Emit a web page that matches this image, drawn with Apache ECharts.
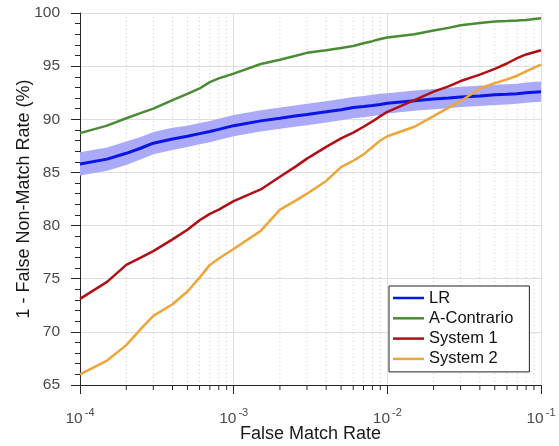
<!DOCTYPE html>
<html>
<head>
<meta charset="utf-8">
<script src="https://cdn.jsdelivr.net/npm/echarts@6/dist/echarts.min.js"></script>
<style>
  html, body { margin: 0; padding: 0; background: #fff; }
  #chart { width: 559px; height: 446px; }
</style>
</head>
<body>
<div id="chart"></div>
<script>
// false match rate samples (x)
var fmr = [1e-4, 1.5e-4, 2e-4, 2.5e-4, 3e-4, 4e-4, 5e-4, 6e-4, 7e-4, 8e-4,
           1e-3, 1.5e-3, 2e-3, 2.5e-3, 3e-3, 4e-3, 5e-3, 6e-3, 7e-3, 8e-3, 9e-3,
           1e-2, 1.5e-2, 2e-2, 2.5e-2, 3e-2, 4e-2, 5e-2, 6e-2, 7e-2, 8e-2, 1e-1];

var lr = [85.8, 86.25, 86.8, 87.3, 87.75, 88.15, 88.4, 88.65, 88.85, 89.05,
          89.4, 89.85, 90.1, 90.3, 90.45, 90.7, 90.9, 91.1, 91.2, 91.3, 91.4,
          91.5, 91.75, 91.9, 92.0, 92.1, 92.2, 92.3, 92.35, 92.4, 92.5, 92.6];
// half width of the shaded band around LR
var lrSpread = [1.1, 1.1, 1.1, 1.05, 1.05, 1.05, 1.0, 1.0, 1.0, 1.0,
                1.0, 1.0, 1.0, 1.0, 1.0, 1.0, 1.0, 1.0, 1.0, 1.0, 1.0,
                0.95, 0.95, 0.95, 0.95, 0.95, 0.95, 0.95, 0.95, 0.95, 0.95, 0.95];
var aContrario = [88.7, 89.4, 90.1, 90.6, 91.0, 91.8, 92.4, 92.9, 93.5, 93.85,
                  94.3, 95.2, 95.6, 95.95, 96.25, 96.5, 96.7, 96.9, 97.15, 97.35, 97.55,
                  97.7, 98.0, 98.35, 98.6, 98.85, 99.05, 99.2, 99.25, 99.3, 99.35, 99.5];
var system1 = [73.1, 74.7, 76.3, 77.0, 77.6, 78.7, 79.6, 80.5, 81.1, 81.5,
               82.3, 83.4, 84.6, 85.5, 86.3, 87.4, 88.2, 88.75, 89.3, 89.8, 90.3,
               90.7, 91.8, 92.6, 93.1, 93.6, 94.2, 94.75, 95.25, 95.75, 96.1, 96.5];
var system2 = [66.0, 67.3, 68.75, 70.3, 71.5, 72.6, 73.8, 75.1, 76.3, 76.9,
               77.8, 79.5, 81.5, 82.3, 83.0, 84.2, 85.5, 86.1, 86.7, 87.4, 88.0,
               88.4, 89.3, 90.3, 91.1, 91.7, 92.9, 93.4, 93.75, 94.1, 94.5, 95.15];

var xTicks = [1e-4, 1e-3, 1e-2, 1e-1];
var xTickExp = ['-4', '-3', '-2', '-1'];
var xMinorTicks = [2e-4, 3e-4, 4e-4, 5e-4, 6e-4, 7e-4, 8e-4, 9e-4,
                   2e-3, 3e-3, 4e-3, 5e-3, 6e-3, 7e-3, 8e-3, 9e-3,
                   2e-2, 3e-2, 4e-2, 5e-2, 6e-2, 7e-2, 8e-2, 9e-2];
var yMin = 65, yMax = 100;
var legendNames = ['LR', 'A-Contrario', 'System 1', 'System 2'];

function pairs(ys) {
    return fmr.map(function (x, i) { return [x, ys[i]]; });
}

var chart = echarts.init(document.getElementById('chart'));
var font = 'Liberation Sans, Arial, Helvetica, sans-serif';
var axisColor = '#262626';
var gridColor = '#dedede';

// shaded band: one polygon built from LR +/- spread
function renderBand(params, api) {
    if (params.dataIndex !== 0) return;
    var pts = [];
    for (var i = 0; i < fmr.length; i++) {
        pts.push(api.coord([fmr[i], lr[i] + lrSpread[i]]));
    }
    for (var j = fmr.length - 1; j >= 0; j--) {
        pts.push(api.coord([fmr[j], lr[j] - lrSpread[j]]));
    }
    return {
        type: 'polygon',
        shape: { points: pts },
        style: { fill: '#aaaaf9', stroke: null }
    };
}

// dotted minor grid lines + short minor ticks on the log axis
function renderMinor(params, api) {
    var v = api.value(0);
    var top = api.coord([v, yMax]);
    var bot = api.coord([v, yMin]);
    return {
        type: 'group',
        children: [{
            type: 'line',
            shape: { x1: top[0], y1: top[1], x2: bot[0], y2: bot[1] },
            style: { stroke: '#c8c8c8', lineWidth: 1, lineDash: [1, 3] }
        }, {
            type: 'line',
            shape: { x1: bot[0], y1: bot[1], x2: bot[0], y2: bot[1] + 5 },
            style: { stroke: axisColor, lineWidth: 1 }
        }]
    };
}

var option = {
    animation: false,
    textStyle: { fontFamily: font },
    grid: { left: 80, right: 18, top: 13, bottom: 61, outerBoundsMode: 'none', containLabel: false },
    legend: {
        data: legendNames,
        orient: 'vertical',
        left: 389,
        top: 286,
        icon: 'rect',
        itemWidth: 31,
        itemHeight: 2.5,
        itemGap: 2.3,
        padding: [3, 16, 4, 4],
        borderColor: '#222',
        borderWidth: 1,
        backgroundColor: '#fff',
        textStyle: { fontSize: 16.5, color: '#111', lineHeight: 18, fontFamily: font }
    },
    xAxis: {
        type: 'log',
        logBase: 10,
        min: 1e-4,
        max: 1e-1,
        name: 'False Match Rate',
        nameLocation: 'middle',
        nameGap: 40,
        nameMoveOverlap: false,
        nameTextStyle: { fontSize: 18, color: '#1a1a1a' },
        axisLine: { lineStyle: { color: axisColor, width: 1 } },
        axisTick: { length: 9, lineStyle: { color: axisColor } },
        splitLine: { show: true, lineStyle: { color: gridColor, width: 1 } },
        axisLabel: {
            margin: 22,
            formatter: function (v) {
                var i = xTicks.indexOf(v);
                var e = i >= 0 ? xTickExp[i] : String(Math.round(Math.log10(v)));
                return '{b|10}{s|' + e + '}';
            },
            rich: {
                b: { fontSize: 15.5, color: '#4a4a4a', fontFamily: font, verticalAlign: 'bottom', lineHeight: 20 },
                s: { fontSize: 11, color: '#4a4a4a', fontFamily: font, verticalAlign: 'top', padding: [0, 0, 0, 2] }
            }
        }
    },
    yAxis: {
        type: 'value',
        min: yMin,
        max: yMax,
        interval: 5,
        name: '1 - False Non-Match Rate (%)',
        nameLocation: 'middle',
        nameGap: 47,
        nameMoveOverlap: false,
        nameTextStyle: { fontSize: 18, color: '#1a1a1a' },
        axisLine: { show: true, lineStyle: { color: axisColor, width: 1 } },
        axisTick: { show: true, length: 9, lineStyle: { color: axisColor } },
        minorTick: { show: true, splitNumber: 5, length: 5, lineStyle: { color: axisColor } },
        splitLine: { show: true, lineStyle: { color: gridColor, width: 1 } },
        axisLabel: { fontSize: 15.5, color: '#4a4a4a', margin: 20 }
    },
    series: [
        {
            type: 'custom',
            silent: true,
            clip: false,
            z: 1,
            renderItem: renderMinor,
            encode: { x: 0, y: 1 },
            data: xMinorTicks.map(function (v) { return [v, yMin]; })
        },
        {
            type: 'custom',
            silent: true,
            z: 1,
            renderItem: renderBand,
            encode: { x: 0, y: 1 },
            data: pairs(lr)
        },
        {
            name: 'LR', type: 'line', symbol: 'none', color: '#0a14e6',
            lineStyle: { width: 3 }, data: pairs(lr)
        },
        {
            name: 'A-Contrario', type: 'line', symbol: 'none', color: '#4a8c35',
            lineStyle: { width: 2.5 }, data: pairs(aContrario)
        },
        {
            name: 'System 1', type: 'line', symbol: 'none', color: '#b00f16',
            lineStyle: { width: 2.5 }, data: pairs(system1)
        },
        {
            name: 'System 2', type: 'line', symbol: 'none', color: '#eea53a',
            lineStyle: { width: 2.5 }, data: pairs(system2)
        }
    ]
};

chart.setOption(option);
window.addEventListener('resize', function () {
    chart.resize();
});
</script>
</body>
</html>
